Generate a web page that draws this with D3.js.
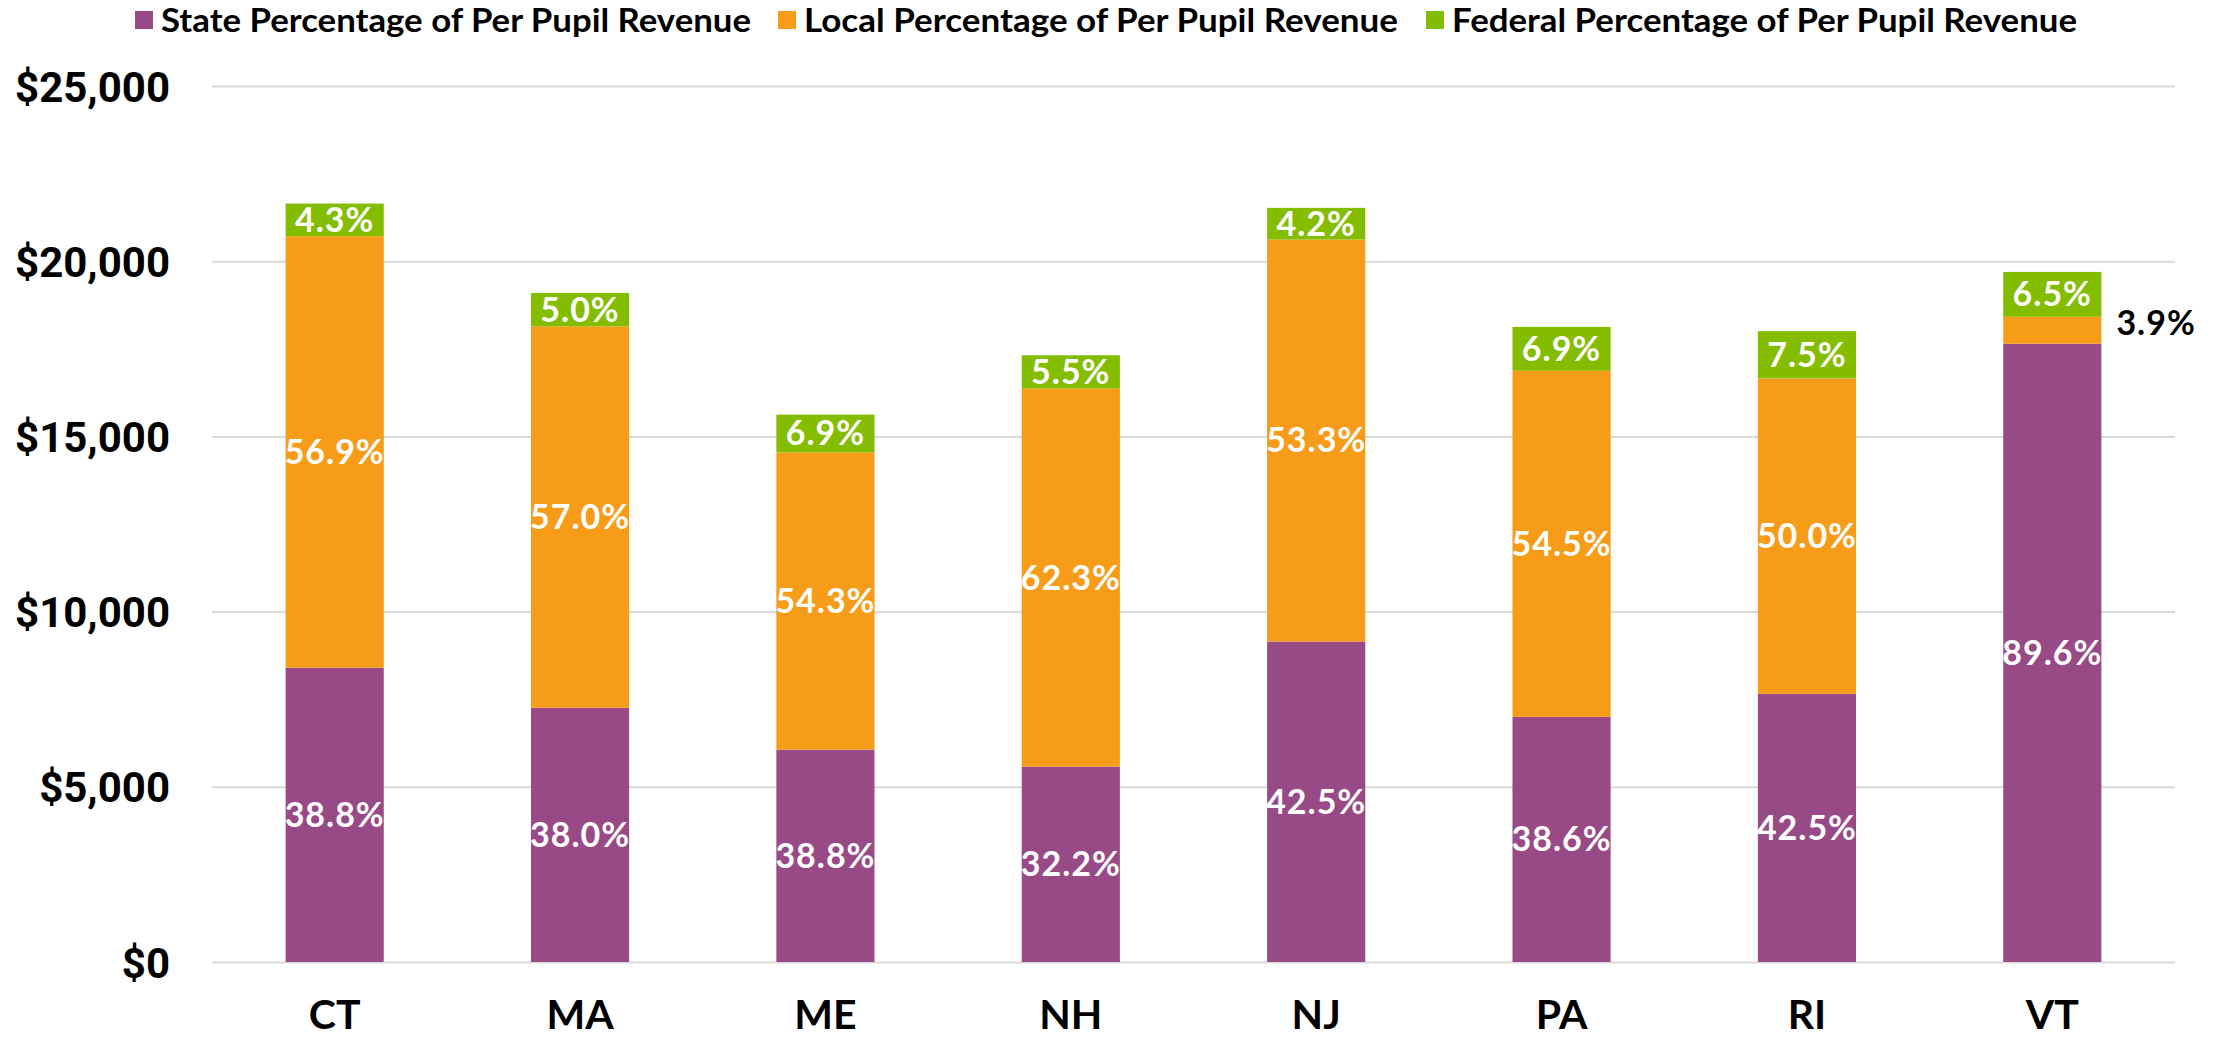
<!DOCTYPE html>
<html lang="en">
<head>
    <meta charset="UTF-8">
    <title>Per Pupil Revenue by Source</title>
    <script src="https://cdnjs.cloudflare.com/ajax/libs/d3/7.8.5/d3.min.js"></script>
    <style>
        body {
            margin: 0;
            background: #fff;
        }
        svg {
            display: block;
        }
        .grid line {
            stroke: #d9d9d9;
            stroke-width: 2px;
        }
        .y-axis text {
            font-family: Roboto, 'Liberation Sans', sans-serif;
            font-weight: 700;
            font-size: 42px;
            fill: #000;
        }
        .x-axis text {
            font-family: 'Century Gothic', Lato, sans-serif;
            font-weight: 700;
            font-size: 41px;
            fill: #000;
        }
        .legend text {
            font-family: 'Century Gothic', Lato, sans-serif;
            font-weight: 700;
            font-size: 33px;
            fill: #000;
        }
        .label {
            font-family: 'Century Gothic', Lato, sans-serif;
            font-size: 34px;
            letter-spacing: 1px;
        }
    </style>
</head>
<body>
    <svg id="chart" width="2221" height="1037"></svg>

    <script>
        // data
        const states = ["CT", "MA", "ME", "NH", "NJ", "PA", "RI", "VT"];
        const seriesNames = [
            "State Percentage of Per Pupil Revenue",
            "Local Percentage of Per Pupil Revenue",
            "Federal Percentage of Per Pupil Revenue"
        ];
        const stateRevenue   = [8398, 7256, 6061, 5576, 9147, 6996, 7652, 17646];
        const localRevenue   = [12316, 10884, 8482, 10788, 11471, 9878, 9002, 768];
        const federalRevenue = [931, 955, 1078, 952, 904, 1251, 1350, 1280];
        const statePct   = ["38.8%", "38.0%", "38.8%", "32.2%", "42.5%", "38.6%", "42.5%", "89.6%"];
        const localPct   = ["56.9%", "57.0%", "54.3%", "62.3%", "53.3%", "54.5%", "50.0%", "3.9%"];
        const federalPct = ["4.3%", "5.0%", "6.9%", "5.5%", "4.2%", "6.9%", "7.5%", "6.5%"];
        const yTicks = [0, 5000, 10000, 15000, 20000, 25000];
        const colors = ["#984A87", "#F79C18", "#84BD00"];

        const keys = ["state", "local", "federal"];
        const pctLabels = { state: statePct, local: localPct, federal: federalPct };
        const rows = states.map((s, i) => ({
            name: s,
            state: stateRevenue[i],
            local: localRevenue[i],
            federal: federalRevenue[i]
        }));

        const svg = d3.select("#chart");
        const plotLeft = 212, plotRight = 2175, plotTop = 86, plotBottom = 962;

        const x = d3.scaleBand()
            .domain(states)
            .range([plotLeft, plotRight])
            .paddingInner(0.6)
            .paddingOuter(0.3);

        const y = d3.scaleLinear()
            .domain([0, 25000])
            .range([plotBottom, plotTop]);

        // gridlines
        svg.append("g")
            .attr("class", "grid")
            .attr("transform", `translate(${plotLeft},0)`)
            .call(d3.axisLeft(y).tickValues(yTicks).tickSize(-(plotRight - plotLeft)).tickFormat(""))
            .call(g => g.select(".domain").remove());

        // y labels
        svg.append("g")
            .attr("class", "y-axis")
            .attr("transform", `translate(${plotLeft},0)`)
            .call(d3.axisLeft(y).tickValues(yTicks).tickSize(0).tickPadding(42)
                .tickFormat(d => "$" + d3.format(",")(d)))
            .call(g => g.select(".domain").remove())
            .selectAll("text").attr("dy", "0.36em");

        const stacked = d3.stack().keys(keys)(rows);

        const layer = svg.append("g").selectAll("g")
            .data(stacked)
            .join("g")
            .attr("fill", (d, i) => colors[i]);

        layer.selectAll("rect")
            .data(d => d)
            .join("rect")
            .attr("x", d => x(d.data.name))
            .attr("width", x.bandwidth())
            .attr("y", d => y(d[1]))
            .attr("height", d => y(d[0]) - y(d[1]));

        // data labels
        stacked.forEach(series => {
            series.forEach((d, i) => {
                const h = y(d[0]) - y(d[1]);
                const cy = (y(d[0]) + y(d[1])) / 2;
                const txt = pctLabels[series.key][i];
                if (h < 30) {
                    // too thin, put it outside
                    svg.append("text")
                        .attr("class", "label")
                        .attr("x", x(d.data.name) + x.bandwidth() + 15)
                        .attr("y", cy - 7)
                        .attr("dy", "0.35em")
                        .attr("fill", "#000")
                        .attr("font-weight", 700)
                        .text(txt);
                } else {
                    svg.append("text")
                        .attr("class", "label")
                        .attr("x", x(d.data.name) + x.bandwidth() / 2)
                        .attr("y", cy)
                        .attr("dy", "0.35em")
                        .attr("text-anchor", "middle")
                        .attr("fill", "#fff")
                        .attr("font-weight", 700)
                        .text(txt);
                }
            });
        });

        // x labels
        svg.append("g")
            .attr("class", "x-axis")
            .attr("transform", `translate(0,${plotBottom})`)
            .call(d3.axisBottom(x).tickSize(0).tickPadding(38))
            .call(g => g.select(".domain").remove());

        // legend
        const legendX = [135, 778, 1426];
        const legendW = [590, 594, 625];
        const legend = svg.append("g").attr("class", "legend");
        seriesNames.forEach((name, i) => {
            legend.append("rect")
                .attr("x", legendX[i])
                .attr("y", 11)
                .attr("width", 18)
                .attr("height", 18)
                .attr("fill", colors[i]);
            legend.append("text")
                .attr("x", legendX[i] + 26)
                .attr("y", 32)
                .attr("textLength", legendW[i])
                .attr("lengthAdjust", "spacingAndGlyphs")
                .text(name);
        });
    </script>
</body>
</html>
